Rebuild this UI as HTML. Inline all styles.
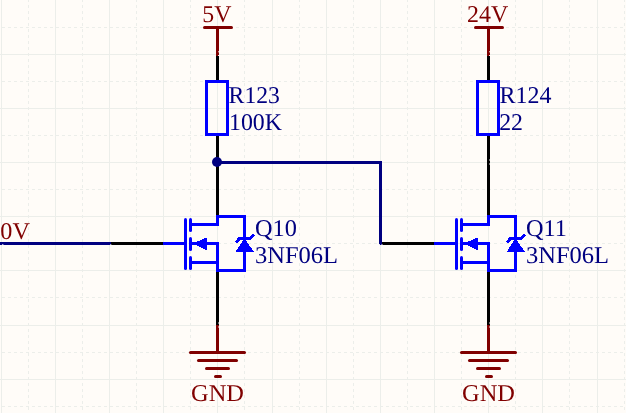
<!DOCTYPE html>
<html lang="en"><head><meta charset="utf-8"><title>Schematic</title>
<style>
html,body{margin:0;padding:0;background:#FFFCF8;overflow:hidden}
svg{display:block;will-change:transform}
text{text-rendering:geometricPrecision;font-family:"Liberation Serif",serif;font-size:24px}
.g line{stroke:#ECEEEA;stroke-width:1;shape-rendering:crispEdges}
.w{fill:none;stroke-width:3;shape-rendering:crispEdges}
.r{stroke-linecap:round;shape-rendering:auto}
</style></head><body>
<svg width="626" height="413" viewBox="0 0 626 413">
<rect width="626" height="413" fill="#FFFCF8"/>
<g class="g">
<line x1="1.5" y1="0" x2="1.5" y2="413"/>
<line x1="28.5" y1="-1" x2="28.5" y2="413" stroke-dasharray="3 3"/>
<line x1="55.5" y1="0" x2="55.5" y2="413"/>
<line x1="82.5" y1="-1" x2="82.5" y2="413" stroke-dasharray="3 3"/>
<line x1="109.5" y1="0" x2="109.5" y2="413"/>
<line x1="136.5" y1="-1" x2="136.5" y2="413" stroke-dasharray="3 3"/>
<line x1="163.5" y1="0" x2="163.5" y2="413"/>
<line x1="190.5" y1="-1" x2="190.5" y2="413" stroke-dasharray="3 3"/>
<line x1="217.5" y1="0" x2="217.5" y2="413"/>
<line x1="244.5" y1="-1" x2="244.5" y2="413" stroke-dasharray="3 3"/>
<line x1="272.5" y1="0" x2="272.5" y2="413"/>
<line x1="299.5" y1="-1" x2="299.5" y2="413" stroke-dasharray="3 3"/>
<line x1="326.5" y1="0" x2="326.5" y2="413"/>
<line x1="353.5" y1="-1" x2="353.5" y2="413" stroke-dasharray="3 3"/>
<line x1="380.5" y1="0" x2="380.5" y2="413"/>
<line x1="407.5" y1="-1" x2="407.5" y2="413" stroke-dasharray="3 3"/>
<line x1="434.5" y1="0" x2="434.5" y2="413"/>
<line x1="461.5" y1="-1" x2="461.5" y2="413" stroke-dasharray="3 3"/>
<line x1="488.5" y1="0" x2="488.5" y2="413"/>
<line x1="515.5" y1="-1" x2="515.5" y2="413" stroke-dasharray="3 3"/>
<line x1="542.5" y1="0" x2="542.5" y2="413"/>
<line x1="569.5" y1="-1" x2="569.5" y2="413" stroke-dasharray="3 3"/>
<line x1="597.5" y1="0" x2="597.5" y2="413"/>
<line x1="624.5" y1="-1" x2="624.5" y2="413" stroke-dasharray="3 3"/>
<line x1="-4" y1="27.5" x2="626" y2="27.5" stroke-dasharray="3 3"/>
<line x1="0" y1="54.5" x2="626" y2="54.5"/>
<line x1="-4" y1="81.5" x2="626" y2="81.5" stroke-dasharray="3 3"/>
<line x1="0" y1="108.5" x2="626" y2="108.5"/>
<line x1="-4" y1="135.5" x2="626" y2="135.5" stroke-dasharray="3 3"/>
<line x1="0" y1="162.5" x2="626" y2="162.5"/>
<line x1="-4" y1="189.5" x2="626" y2="189.5" stroke-dasharray="3 3"/>
<line x1="0" y1="216.5" x2="626" y2="216.5"/>
<line x1="-4" y1="243.5" x2="626" y2="243.5" stroke-dasharray="3 3"/>
<line x1="0" y1="270.5" x2="626" y2="270.5"/>
<line x1="-4" y1="297.5" x2="626" y2="297.5" stroke-dasharray="3 3"/>
<line x1="0" y1="325.5" x2="626" y2="325.5"/>
<line x1="-4" y1="352.5" x2="626" y2="352.5" stroke-dasharray="3 3"/>
<line x1="0" y1="379.5" x2="626" y2="379.5"/>
<line x1="-4" y1="406.5" x2="626" y2="406.5" stroke-dasharray="3 3"/>
</g>
<line class="w" x1="110" y1="243.5" x2="162.5" y2="243.5" stroke="#000000"/>
<line class="w" x1="381" y1="243.5" x2="433.5" y2="243.5" stroke="#000000"/>
<text transform="translate(216.9 22) scale(0.993 1)" text-anchor="middle" fill="#800000">5V</text>
<line class="w r" x1="204.5" y1="27.5" x2="231.5" y2="27.5" stroke="#800000"/>
<line class="w" x1="217.5" y1="55" x2="217.5" y2="81" stroke="#000000"/>
<line class="w" shape-rendering="auto" x1="217.5" y1="27.5" x2="217.5" y2="55.5" stroke="#800000"/>
<line class="w" x1="217.5" y1="135" x2="217.5" y2="215" stroke="#000000"/>
<rect class="w" x="206.5" y="81.5" width="21" height="53" stroke="#0000FF"/>
<text transform="translate(228.6 103) scale(0.986 1)" fill="#000080">R123</text>
<text transform="translate(229 130) scale(0.993 1)" fill="#000080">100K</text>
<line class="w" x1="162.5" y1="243.5" x2="185.5" y2="243.5" stroke="#0000FF"/>
<line class="w r" x1="185.5" y1="219.5" x2="185.5" y2="268.5" stroke="#0000FF"/>
<line class="w r" x1="190.5" y1="219.5" x2="190.5" y2="230.5" stroke="#0000FF"/>
<line class="w r" x1="190.5" y1="238.5" x2="190.5" y2="249.5" stroke="#0000FF"/>
<line class="w r" x1="190.5" y1="257.5" x2="190.5" y2="268.5" stroke="#0000FF"/>
<line class="w" x1="190.5" y1="224.5" x2="219" y2="224.5" stroke="#0000FF"/>
<line class="w" x1="190.5" y1="262.5" x2="219" y2="262.5" stroke="#0000FF"/>
<line class="w" x1="190.5" y1="243.5" x2="219" y2="243.5" stroke="#0000FF"/>
<polyline class="w" stroke-linejoin="round" shape-rendering="auto" points="217.5,226 217.5,216.5 244.5,216.5 244.5,270.5 217.5,270.5 217.5,242" stroke="#0000FF"/>
<polygon points="192.3,243.6 207,237.4 207,250.2" fill="#0000FF" shape-rendering="crispEdges"/>
<polygon points="244.5,238.5 235.5,252 254,252" fill="#0000FF" shape-rendering="crispEdges"/>
<polyline class="w" points="236,242.5 239.5,238.5 249.5,238.5 254.3,234.6" stroke="#0000FF"/>
<text transform="translate(255 236) scale(1.013 1)" fill="#000080">Q10</text>
<text transform="translate(255 263) scale(1.021 1)" fill="#000080">3NF06L</text>
<line class="w" x1="217.5" y1="272" x2="217.5" y2="324.5" stroke="#000000"/>
<line class="w" x1="217.5" y1="324.5" x2="217.5" y2="352.5" stroke="#800000"/>
<line class="w r" x1="190.5" y1="352.5" x2="244.5" y2="352.5" stroke="#800000"/>
<line class="w r" x1="198.5" y1="360.5" x2="236.5" y2="360.5" stroke="#800000"/>
<line class="w r" x1="206.5" y1="368.5" x2="228.5" y2="368.5" stroke="#800000"/>
<line class="w r" x1="215.5" y1="376.5" x2="220.5" y2="376.5" stroke="#800000"/>
<text transform="translate(217.5 401) scale(1.018 1)" text-anchor="middle" fill="#800000">GND</text>
<text transform="translate(487.6 22) scale(0.996 1)" text-anchor="middle" fill="#800000">24V</text>
<line class="w r" x1="475.5" y1="27.5" x2="502.5" y2="27.5" stroke="#800000"/>
<line class="w" x1="488.5" y1="55" x2="488.5" y2="81" stroke="#000000"/>
<line class="w" shape-rendering="auto" x1="488.5" y1="27.5" x2="488.5" y2="55.5" stroke="#800000"/>
<line class="w" x1="488.5" y1="135" x2="488.5" y2="215" stroke="#000000"/>
<rect class="w" x="477.5" y="81.5" width="21" height="53" stroke="#0000FF"/>
<text transform="translate(499.6 103) scale(0.998 1)" fill="#000080">R124</text>
<text transform="translate(499.2 130) scale(0.993 1)" fill="#000080">22</text>
<line class="w" x1="433.5" y1="243.5" x2="456.5" y2="243.5" stroke="#0000FF"/>
<line class="w r" x1="456.5" y1="219.5" x2="456.5" y2="268.5" stroke="#0000FF"/>
<line class="w r" x1="461.5" y1="219.5" x2="461.5" y2="230.5" stroke="#0000FF"/>
<line class="w r" x1="461.5" y1="238.5" x2="461.5" y2="249.5" stroke="#0000FF"/>
<line class="w r" x1="461.5" y1="257.5" x2="461.5" y2="268.5" stroke="#0000FF"/>
<line class="w" x1="461.5" y1="224.5" x2="490" y2="224.5" stroke="#0000FF"/>
<line class="w" x1="461.5" y1="262.5" x2="490" y2="262.5" stroke="#0000FF"/>
<line class="w" x1="461.5" y1="243.5" x2="490" y2="243.5" stroke="#0000FF"/>
<polyline class="w" stroke-linejoin="round" shape-rendering="auto" points="488.5,226 488.5,216.5 515.5,216.5 515.5,270.5 488.5,270.5 488.5,242" stroke="#0000FF"/>
<polygon points="463.3,243.6 478,237.4 478,250.2" fill="#0000FF" shape-rendering="crispEdges"/>
<polygon points="515.5,238.5 506.5,252 525,252" fill="#0000FF" shape-rendering="crispEdges"/>
<polyline class="w" points="507,242.5 510.5,238.5 520.5,238.5 525.3,234.6" stroke="#0000FF"/>
<text transform="translate(526 236) scale(1.013 1)" fill="#000080">Q11</text>
<text transform="translate(526 263) scale(1.021 1)" fill="#000080">3NF06L</text>
<line class="w" x1="488.5" y1="272" x2="488.5" y2="324.5" stroke="#000000"/>
<line class="w" x1="488.5" y1="324.5" x2="488.5" y2="352.5" stroke="#800000"/>
<line class="w r" x1="461.5" y1="352.5" x2="515.5" y2="352.5" stroke="#800000"/>
<line class="w r" x1="469.5" y1="360.5" x2="507.5" y2="360.5" stroke="#800000"/>
<line class="w r" x1="477.5" y1="368.5" x2="499.5" y2="368.5" stroke="#800000"/>
<line class="w r" x1="486.5" y1="376.5" x2="491.5" y2="376.5" stroke="#800000"/>
<text transform="translate(488.5 401) scale(1.018 1)" text-anchor="middle" fill="#800000">GND</text>
<line class="w" x1="0" y1="243.5" x2="110.5" y2="243.5" stroke="#000080"/>
<polyline class="w" stroke-linejoin="round" shape-rendering="auto" points="217.5,162.5 380.5,162.5 380.5,245" stroke="#000080"/>
<circle cx="217" cy="162" r="5" fill="#000080"/>
<text transform="translate(0.3 238.6) scale(1.008 1)" fill="#800000">0V</text>
<g fill="#FFFFFF"><rect x="218.1" y="51.3" width="1" height="1"/><rect x="218.1" y="55" width="1" height="1"/><rect x="218.1" y="322.5" width="1" height="1"/><rect x="218.1" y="326.5" width="1" height="1"/><rect x="489.1" y="51.3" width="1" height="1"/><rect x="489.1" y="55" width="1" height="1"/><rect x="489.1" y="322.5" width="1" height="1"/><rect x="489.1" y="326.5" width="1" height="1"/><rect x="489.1" y="159.5" width="1" height="1"/><rect x="489.1" y="163.5" width="1" height="1"/><rect x="110.3" y="244.1" width="1" height="1"/><rect x="379" y="244.1" width="1" height="1"/><rect x="381.5" y="244.1" width="1" height="1"/><rect x="2.3" y="244" width="1" height="1"/></g>
</svg></body></html>
